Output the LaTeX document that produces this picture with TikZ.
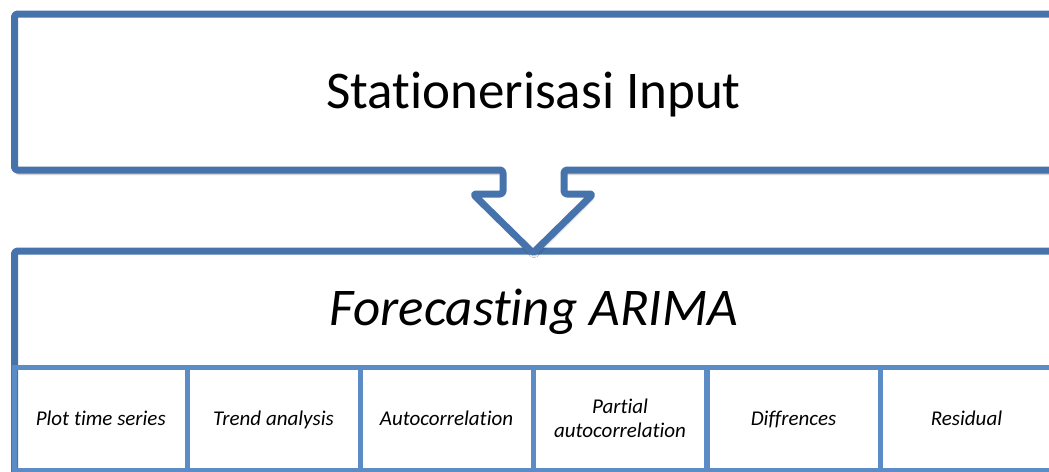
\documentclass[tikz,border=0pt]{standalone}
\usepackage{fontspec}
\setmainfont{Carlito}[Ligatures={NoCommon,NoContextual,NoRare}, Contextuals={NoAlternate}]
\newcommand\nolig{\kern0pt{}}
\usetikzlibrary{shadows.blur}
\definecolor{darkb}{RGB}{70,115,172}
\definecolor{lightb}{RGB}{92,140,198}
\tikzset{
  outer/.style={draw=darkb, line width=7pt, fill=white, rounded corners=3pt, line join=round},
  cell/.style={draw=lightb, line width=5pt, minimum width=173pt, minimum height=103pt, inner sep=0pt},
  celltext/.style={anchor=base, inner sep=0pt, font=\fontsize{21}{24}\selectfont\itshape},
  bigtext/.style={anchor=base, font=\fontsize{53}{60}\selectfont, inner sep=0pt},
  shd/.style={blur shadow={shadow xshift=1pt, shadow yshift=-4pt, shadow blur steps=6, shadow opacity=30}}
}
\begin{document}
\begin{tikzpicture}[x=1pt,y=-1pt]
\useasboundingbox (0,0) rectangle (1049,471);
\clip (0,0) rectangle (1049,471);
% bottom box
\draw[outer, shd] (14.5,251) rectangle (1053,480);
\node[bigtext, font=\fontsize{53}{60}\selectfont\itshape] (fc) at (534,325) {Forecast\nolig ing ARIMA};
% cells
\draw[lightb, line width=5pt] (14.5,367) -- (1053,367);
\node[cell] (c1) at (100.75,419) {};
\node[cell] (c2) at (273.5,419) {};
\node[cell] (c3) at (446.5,419) {};
\node[cell] (c4) at (620,419) {};
\node[cell] (c5) at (793.5,419) {};
\node[cell] (c6) at (966.5,419) {};
\node[celltext] (t1) at (c1 |- 0,425) {Plot t\nolig ime series};
\node[celltext] (t2) at (c2 |- 0,425) {Trend analysis};
\node[celltext] (t3) at (c3 |- 0,425) {Autocorrelat\nolig ion};
\node[celltext] (t4a) at (c4 |- 0,413) {Part\nolig ial};
\node[celltext] (t4b) at (c4 |- 0,437) {autocorrelat\nolig ion};
\node[celltext] (t5) at (c5 |- 0,425) {Diffrences};
\node[celltext] (t6) at (c6 |- 0,425) {Residual};
% top box with arrow
\coordinate (tl) at (14.5,14);
\coordinate (tip) at (533,253);
\draw[outer, shd] (tl) -- (1053,14) -- (1053,170) -- (564,170) -- (564,194) -- (593,194)
  -- (tip) -- (473,194) -- (503,194) -- (503,170) -- (14.5,170) -- cycle;
\node[bigtext] (si) at (533.5,108) {Stat\nolig ionerisasi Input};
\end{tikzpicture}
\end{document}
